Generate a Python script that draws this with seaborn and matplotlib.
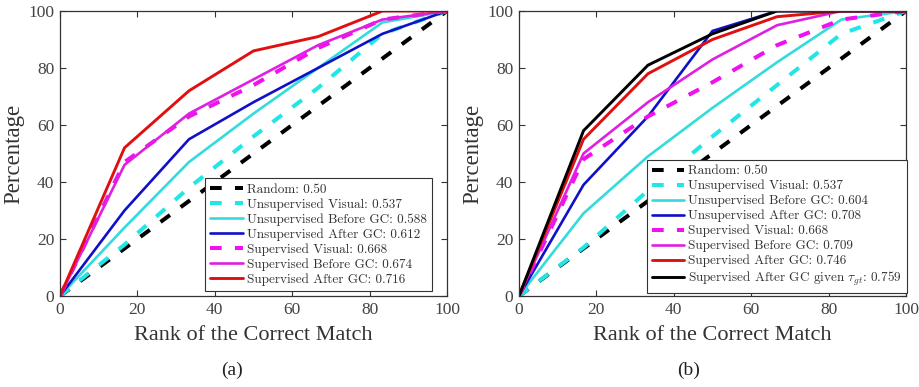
import matplotlib
matplotlib.use("Agg")
import matplotlib.pyplot as plt
import seaborn as sns
import pandas as pd
import numpy as np

# ---- data ----
ranks = [0, 16.67, 33.33, 50, 66.67, 83.33, 100]

a_labels = ["Random: 0.50", "Unsupervised Visual: 0.537", "Unsupervised Before GC: 0.588",
            "Unsupervised After GC: 0.612", "Supervised Visual: 0.668",
            "Supervised Before GC: 0.674", "Supervised After GC: 0.716"]
a_random = [0, 16.67, 33.33, 50, 66.67, 83.33, 100]
a_unsup_visual = [0, 18, 38, 56, 73, 92, 100]
a_unsup_before = [0, 24, 47, 64, 80, 96, 100]
a_unsup_after = [0, 30, 55, 68, 80, 92, 100]
a_sup_visual = [0, 47, 63, 74, 87, 97, 100]
a_sup_before = [0, 46, 64, 76, 88, 97, 100]
a_sup_after = [0, 52, 72, 86, 91, 100, 100]

b_labels = ["Random: 0.50", "Unsupervised Visual: 0.537", "Unsupervised Before GC: 0.604",
            "Unsupervised After GC: 0.708", "Supervised Visual: 0.668",
            "Supervised Before GC: 0.709", "Supervised After GC: 0.746",
            r"Supervised After GC given $\tau_{gt}$: 0.759"]
b_random = [0, 16.67, 33.33, 50, 66.67, 83.33, 100]
b_unsup_visual = [0, 17, 37, 56, 74, 92, 100]
b_unsup_before = [0, 29, 49, 66, 82, 97, 100]
b_unsup_after = [0, 39, 63, 93, 100, 100, 100]
b_sup_visual = [0, 48, 63, 75, 88, 97, 100]
b_sup_before = [0, 50, 68, 83, 95, 100, 100]
b_sup_after = [0, 55, 78, 90, 98, 100, 100]
b_sup_after_gt = [0, 58, 81, 92, 100, 100, 100]

ticks = [0, 20, 40, 60, 80, 100]

# ---- styles ----
DASH = (0, (2.9, 3.3))
styles = [
    dict(color="black", ls=DASH, lw=2.9),
    dict(color="#22e5e5", ls=DASH, lw=2.9),
    dict(color="#33dcdc", ls="-", lw=1.9),
    dict(color="#1010c8", ls="-", lw=1.9),
    dict(color="#f010f0", ls=DASH, lw=2.9),
    dict(color="#e020e0", ls="-", lw=1.9),
    dict(color="#e01010", ls="-", lw=2.1),
    dict(color="black", ls="-", lw=2.1),
]

sns.set_style("ticks")
plt.rcParams["font.family"] = ["Liberation Serif", "DejaVu Serif"]
plt.rcParams["mathtext.fontset"] = "cm"

fig = plt.figure(figsize=(9.19, 3.87), dpi=100)
ax_a = fig.add_axes([60/919, 1-296/387, 387/919, 285/387])
ax_b = fig.add_axes([519/919, 1-296/387, 387/919, 285/387])


def draw(ax, series, labels, anchor):
    for i, (ys, lab) in enumerate(zip(series, labels)):
        st = styles[i]
        df = pd.DataFrame({"rank": ranks, "pct": ys})
        sns.lineplot(data=df, x="rank", y="pct", ax=ax, color=st["color"],
                     linestyle=st["ls"], linewidth=st["lw"], label=lab,
                     solid_joinstyle="miter", dash_capstyle="butt")
    ax.set_xlim(0, 100)
    ax.set_ylim(0, 100)
    ax.set_xticks(ticks)
    ax.set_yticks(ticks)
    ax.tick_params(direction="in", length=4, width=0.8, top=True, right=True,
                   labelsize=12.5, colors="#333333", labelcolor="#444444", pad=4)
    for s in ax.spines.values():
        s.set_color("#333333")
        s.set_linewidth(0.9)
    ax.set_xlabel("Rank of the Correct Match", fontsize=16, color="#333333", labelpad=6)
    ax.set_ylabel("Percentage", fontsize=16.5, color="#333333", labelpad=3)
    leg = ax.legend(loc="lower right", bbox_to_anchor=anchor, borderaxespad=0,
                    prop={"family": ["cmr10", "DejaVu Serif"], "size": 9.5},
                    handlelength=2.45, handletextpad=0.3,
                    labelspacing=0.18, borderpad=0.4, frameon=True, fancybox=False,
                    framealpha=1)
    leg.get_frame().set_edgecolor("#333333")
    leg.get_frame().set_linewidth(0.8)
    for t in leg.get_texts():
        t.set_color("#333333")


draw(ax_a, [a_random, a_unsup_visual, a_unsup_before, a_unsup_after,
            a_sup_visual, a_sup_before, a_sup_after], a_labels, (0.961, 0.018))
draw(ax_b, [b_random, b_unsup_visual, b_unsup_before, b_unsup_after,
            b_sup_visual, b_sup_before, b_sup_after, b_sup_after_gt], b_labels, (1.003, 0.01))

fig.text(232/919, 1-370/387, "(a)", ha="center", va="center", fontsize=14, color="#222222")
fig.text(689/919, 1-370/387, "(b)", ha="center", va="center", fontsize=14, color="#222222")

fig.savefig("out.png", dpi=100)
